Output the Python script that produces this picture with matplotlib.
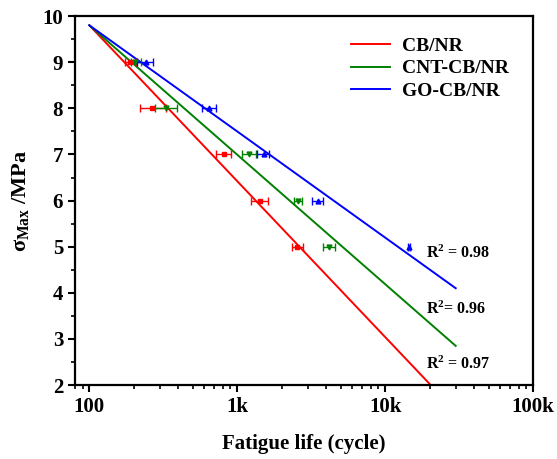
import matplotlib
matplotlib.use("Agg")
import matplotlib.pyplot as plt
import numpy as np

# ---- data ----
stress = [9, 8, 7, 6, 5]

cb_life = [189, 267, 817, 1429, 2540]
cb_lo = [175, 221, 721, 1245, 2355]
cb_hi = [208, 331, 910, 1619, 2793]

cnt_life = [205, 331, 1205, 2570, 4170]
cnt_lo = [190, 279, 1081, 2420, 3810]
cnt_hi = [222, 394, 1344, 2740, 4590]

go_life = [243, 648, 1521, 3520, 14500]
go_lo = [211, 581, 1365, 3214, 14200]
go_hi = [270, 721, 1645, 3810, 14800]

fit_x = [100, 30000]
cb_fit = [9.8, 1.43]
cnt_fit = [9.8, 2.85]
go_fit = [9.8, 4.1]

labels = ["CB/NR", "CNT-CB/NR", "GO-CB/NR"]
r2_texts = ["R$^\\mathbf{2}$ = 0.97", "R$^\\mathbf{2}$= 0.96", "R$^\\mathbf{2}$ = 0.98"]
r2_y = [2.45, 3.64, 4.86]
xticks = [100, 1000, 10000, 100000]
xticklabels = ["100", "1k", "10k", "100k"]

colors = ["#ff0000", "#008000", "#0000ff"]
markers = ["s", "v", "^"]

plt.rcParams['font.family'] = ['Liberation Serif', 'DejaVu Serif']
plt.rcParams['mathtext.fontset'] = 'custom'
plt.rcParams['mathtext.rm'] = 'Liberation Serif:bold'
plt.rcParams['mathtext.it'] = 'Liberation Serif:bold'
plt.rcParams['mathtext.bf'] = 'Liberation Serif:bold'

fig = plt.figure(figsize=(5.57, 4.59), dpi=100)
ax = fig.add_axes([0.1346, 0.161, 0.8224, 0.804])

series = [
    (cb_life, cb_lo, cb_hi, cb_fit),
    (cnt_life, cnt_lo, cnt_hi, cnt_fit),
    (go_life, go_lo, go_hi, go_fit),
]
for (life, lo, hi, fit), c, m, lab in zip(series, colors, markers, labels):
    life = np.array(life, float)
    xerr = [life - np.array(lo), np.array(hi) - life]
    ax.errorbar(life, stress, xerr=xerr, fmt=m, color=c, ms=3.5, elinewidth=1,
                capsize=3, capthick=1, zorder=3)
    ax.plot(fit_x, fit, color=c, lw=1.4, label=lab, zorder=2)

ax.set_xscale('log')
ax.set_xlim(80, 100000)
ax.set_ylim(2, 10)
ax.set_xticks(xticks)
ax.set_xticklabels(xticklabels)
ax.set_yticks(range(2, 11))
ax.yaxis.set_minor_locator(matplotlib.ticker.MultipleLocator(0.5))

for lab in ax.get_xticklabels() + ax.get_yticklabels():
    lab.set_fontweight('bold')
    lab.set_fontsize(15)

ax.tick_params(which='major', direction='out', length=5, width=1.5, top=False, right=False)
ax.tick_params(which='minor', direction='out', length=3, width=1.2, top=False, right=False)
for s in ax.spines.values():
    s.set_linewidth(1.6)

ax.set_xlabel("Fatigue life (cycle)", fontsize=15, fontweight='bold', labelpad=12)
ax.set_ylabel("σ$_{\\mathrm{Max}}$ /MPa", fontsize=16, fontweight='bold', labelpad=8)

leg = ax.legend(loc='upper right', bbox_to_anchor=(0.985, 0.99), frameon=False,
                prop={'family': 'Liberation Serif', 'weight': 'bold', 'size': 14},
                handlelength=2.0, labelspacing=0.25, handletextpad=0.6)

for t, yv in zip(r2_texts, r2_y):
    ax.text(19000, yv, t, fontsize=11.5, fontweight='bold', ha='left', va='center')

fig.savefig("out.png", dpi=100)
